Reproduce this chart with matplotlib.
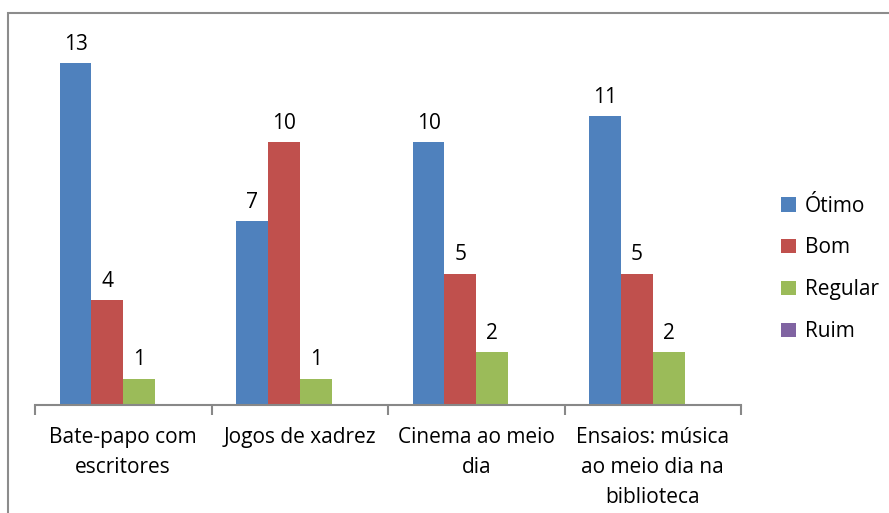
import matplotlib.pyplot as plt
import matplotlib.patches as mpatches
import numpy as np

categories = ['Bate-papo com\nescritores', 'Jogos de xadrez', 'Cinema ao meio\ndia',
              'Ensaios: música\nao meio dia na\nbiblioteca']
series = ['Ótimo', 'Bom', 'Regular', 'Ruim']
otimo = [13, 7, 10, 11]
bom = [4, 10, 5, 5]
regular = [1, 1, 2, 2]
ruim = [0, 0, 0, 0]
colors = ['#4f81bd', '#c0504d', '#9bbb59', '#8064a2']

plt.rcParams['font.family'] = ['Open Sans', 'DejaVu Sans']
fs = 15

fig = plt.figure(figsize=(8.89, 5.13), dpi=100)
ax = fig.add_axes([35 / 889, 108 / 513, 706 / 889, 368 / 513])

x = np.arange(len(categories))
w = 0.18
values = [otimo, bom, regular, ruim]
for i, (name, vals) in enumerate(zip(series, values)):
    pos = x + (i - 1.5) * w
    bars = ax.bar(pos, vals, w, color=colors[i], label=name)
    for b, v in zip(bars, vals):
        if v > 0:
            ax.annotate(str(v), (b.get_x() + b.get_width() / 2, v), xytext=(0, 6),
                        textcoords='offset points', ha='center', va='bottom', fontsize=fs)

ax.set_xlim(-0.5, len(categories) - 0.5)
ax.set_ylim(0, 14)
ax.set_yticks([])
for s in ['top', 'right', 'left']:
    ax.spines[s].set_visible(False)
ax.spines['bottom'].set_color('#888888')
ax.spines['bottom'].set_linewidth(1.5)
ax.set_xticks(x)
ax.set_xticklabels(categories, fontsize=fs, linespacing=1.55, va='top')
ax.tick_params(axis='x', which='major', length=0, pad=16)
ax.set_xticks(np.arange(-0.5, len(categories)), minor=True)
ax.tick_params(axis='x', which='minor', length=7, width=1.5, color='#888888', direction='out')

ax.legend(loc='center left', bbox_to_anchor=(1.03, 0.37), frameon=False, fontsize=fs,
          handlelength=0.7, handleheight=0.7, handletextpad=0.45, labelspacing=1.0)

fig.patches.append(mpatches.Rectangle((8 / 889, -0.1), 1.1, 1.1 - 13 / 513, transform=fig.transFigure,
                                      fill=False, edgecolor='#8c8c8c', linewidth=1.5))

fig.savefig('out.png', dpi=100)
